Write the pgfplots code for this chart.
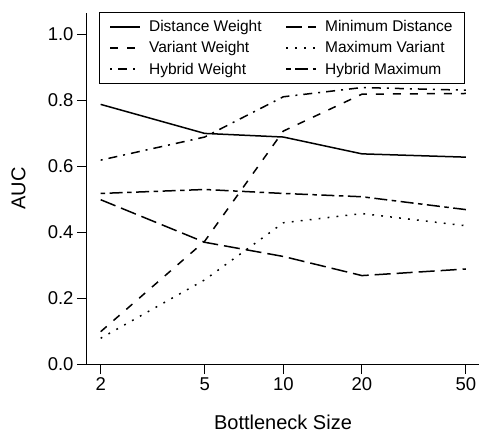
\documentclass[border=0pt]{standalone}
\usepackage{fontspec}
\setmainfont{Liberation Sans}
\usepackage{pgfplots}
\pgfplotsset{compat=1.18}

\tikzset{
  ln/.style={line width=1.5bp, black},
  vdash/.style={ln, dash pattern=on 8bp off 9bp},
  dotdash/.style={ln, dash pattern=on 2bp off 6bp on 9bp off 6bp},
  longdash/.style={ln, dash pattern=on 16bp off 6bp},
  dotted2/.style={ln, dash pattern=on 1.8bp off 7.2bp},
  twodash/.style={ln, dash pattern=on 4.5bp off 4.5bp on 13bp off 4.5bp},
}

\begin{document}
\begin{tikzpicture}
\begin{axis}[
  scale only axis, width=392bp, height=351bp,
  xmode=log, xmin=1.773, xmax=56.1, ymin=0, ymax=1.064,
  axis x line*=bottom, axis y line*=left,
  axis line style={-, line width=1bp},
  xtick={2,5,10,20,50}, xticklabels={2,5,10,20,50},
  ytick={0,0.2,0.4,0.6,0.8,1.0}, yticklabels={0.0,0.2,0.4,0.6,0.8,1.0},
  xminorticks=false, yminorticks=false,
  tick align=outside, major tick length=10bp,
  tick style={line width=1bp, black},
  tick label style={font=\fontsize{18.5bp}{22bp}\selectfont},
  xlabel={Bottleneck Size}, ylabel={AUC},
  every axis x label/.style={at={(axis description cs:0.5,-0.188)}, anchor=base,
    font=\fontsize{20bp}{24bp}\selectfont},
  every axis y label/.style={at={(axis description cs:-0.1747,0.5)}, anchor=center,
    rotate=90, font=\fontsize{20bp}{24bp}\selectfont},
  legend columns=2,
  legend cell align=left,
  legend image code/.code={\draw[#1] (0bp,0bp) -- (30bp,0bp); \path (36bp,0bp);},
  legend style={at={(axis description cs:1,1)}, anchor=north east,
    xshift=-14bp, yshift=1bp, draw=black, line width=0.8bp,
    font=\fontsize{15.5bp}{19bp}\selectfont, inner xsep=10bp, inner ysep=6bp,
    row sep=4.5bp,
    /tikz/every even column/.append style={column sep=22bp}},
]
\addplot[ln] coordinates {(2,0.787) (5,0.699) (10,0.688) (20,0.637) (50,0.627)};
\addlegendentry{Distance Weight}
\addplot[longdash] coordinates {(2,0.498) (5,0.369) (10,0.326) (20,0.268) (50,0.288)};
\addlegendentry{Minimum Distance}
\addplot[vdash] coordinates {(2,0.098) (5,0.372) (10,0.706) (20,0.818) (50,0.82)};
\addlegendentry{Variant Weight}
\addplot[dotted2] coordinates {(2,0.078) (5,0.255) (10,0.428) (20,0.456) (50,0.419)};
\addlegendentry{Maximum Variant}
\addplot[dotdash] coordinates {(2,0.618) (5,0.688) (10,0.81) (20,0.838) (50,0.83)};
\addlegendentry{Hybrid Weight}
\addplot[twodash] coordinates {(2,0.517) (5,0.529) (10,0.517) (20,0.507) (50,0.468)};
\addlegendentry{Hybrid Maximum}
\end{axis}
\pgfresetboundingbox
\path (current axis.south west) ++(-87bp,-69bp) rectangle ++(479bp,433bp);
\end{tikzpicture}
\end{document}
